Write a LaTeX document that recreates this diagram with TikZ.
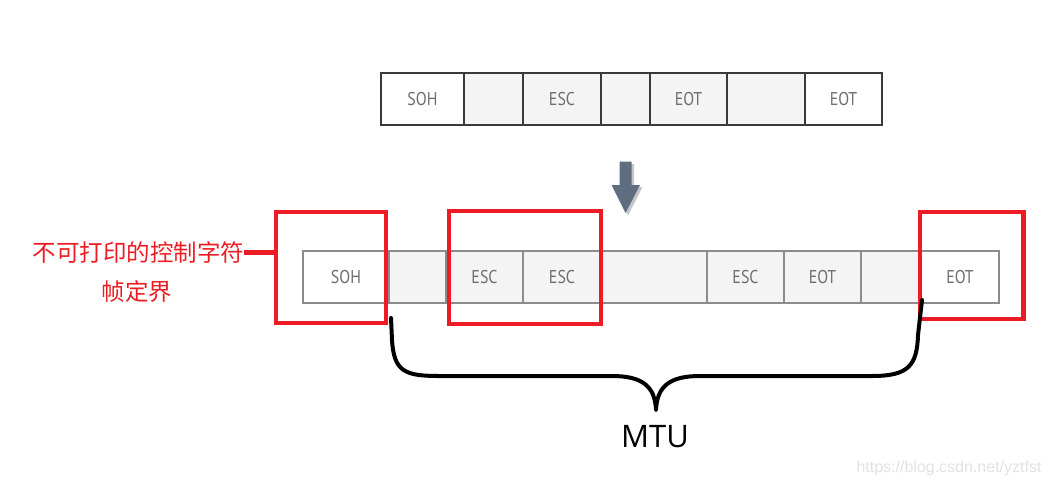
\documentclass[tikz,border=0pt]{standalone}
\usepackage{fontspec}
\setmainfont{Open Sans}
\newfontfamily\cjk{Noto Sans CJK SC}
\newfontfamily\cellfont[FakeStretch=0.86]{PT Sans}
\newfontfamily\urlfont{Liberation Sans}
\usetikzlibrary{positioning}
\definecolor{markred}{HTML}{ED1C24}
\definecolor{cellgray}{HTML}{F4F4F4}
\definecolor{celltext}{HTML}{6E6E6E}
\definecolor{topline}{HTML}{3A3A3A}
\definecolor{botline}{HTML}{8C8C8C}
\definecolor{arrowblue}{HTML}{5E6E80}
\definecolor{urlgray}{HTML}{E2E2E2}
\tikzset{
         cell/.style=
          {
           fill=cellgray,
           minimum height=52pt,
           inner sep=0pt,
           outer sep=0pt,
           text=celltext,
           font=\cellfont\fontsize{18.5pt}{18.5pt}\selectfont
          },
         topcell/.style={cell,draw=topline,line width=1.3pt},
         botcell/.style={cell,draw=botline,line width=1.4pt},
         redbox/.style={draw=markred,line width=4.5pt,inner sep=0pt,outer sep=0pt}
        }

\begin{document}
\begin{tikzpicture}[x=1pt,y=-1pt]
\useasboundingbox(0,0)rectangle(1049,488);

%original frame
\node[topcell,fill=white,minimum width=83pt,anchor=west](tsoh)at(381,99){SOH};
\node[topcell,minimum width=59pt,right=0pt of tsoh](tdata1){};
\node[topcell,minimum width=78pt,right=0pt of tdata1](tesc){ESC};
\node[topcell,minimum width=49pt,right=0pt of tesc](tdata2){};
\node[topcell,minimum width=77pt,right=0pt of tdata2](teot1){EOT};
\node[topcell,minimum width=78pt,right=0pt of teot1](tdata3){};
\node[topcell,fill=white,minimum width=77pt,right=0pt of tdata3](teot2){EOT};

%arrow with shadow
\fill[gray!45](622,164)--(634,164)--(634,187)--(642.5,187)--(628,215.5)--(614,187)--(622,187)--cycle;
\fill[arrowblue](619.5,161.5)--(631.5,161.5)--(631.5,185)--(640,185)--(625.5,213)--(611.5,185)--(619.5,185)--cycle;

%stuffed frame
\node[botcell,fill=white,minimum width=86pt,anchor=west](bsoh)at(303,277){SOH};
\node[botcell,minimum width=57pt,right=0pt of bsoh](bdata1){};
\node[botcell,minimum width=77pt,right=0pt of bdata1](besc1){ESC};
\node[botcell,minimum width=78pt,right=0pt of besc1](besc2){ESC};
\node[botcell,minimum width=106pt,right=0pt of besc2](bdata2){};
\node[botcell,minimum width=77pt,right=0pt of bdata2](besc3){ESC};
\node[botcell,minimum width=77pt,right=0pt of besc3](beot1){EOT};
\node[botcell,minimum width=60pt,right=0pt of beot1](bdata3){};
\node[botcell,fill=white,minimum width=78pt,right=0pt of bdata3](beot2){EOT};

%red marks
\node[redbox,minimum width=110pt,minimum height=111pt](marksoh)at(331,267.5){};
\node[redbox,minimum width=152pt,minimum height=113pt](markesc)at(525,267.5){};
\node[redbox,minimum width=103.5pt,minimum height=107pt](markeot)at(971.75,265.5){};

%label
\node[text=markred,font=\cjk\fontsize{23.5pt}{23.5pt}\selectfont,inner sep=0pt](note)at(138.5,252.5){不可打印的控制字符};
\node[text=markred,font=\cjk\fontsize{23.5pt}{23.5pt}\selectfont,inner sep=0pt](notesub)at(137,292){帧定界};
\draw[markred,line width=4.5pt](note.east)--(note.east-|marksoh.west);

%brace
\draw[line width=4pt,line cap=round,line join=round](391,318)--(392,340)..controls(394,372)and(405,376)..(440,376)--(612,376)..controls(642,376)and(655,386)..(656,410)..controls(657,386)and(670,376)..(700,376)--(872,376)..controls(908,376)and(917,366)..(918,335)--(922,300);
\node[font=\fontsize{31pt}{31pt}\selectfont,inner sep=0pt](mtu)at(655,437){MTU};

%watermark
\node[text=urlgray,font=\urlfont\fontsize{16pt}{16pt}\selectfont,inner sep=0pt](url)at(949,468){https://blog.csdn.net/yztfst};

\end{tikzpicture}
\end{document}
